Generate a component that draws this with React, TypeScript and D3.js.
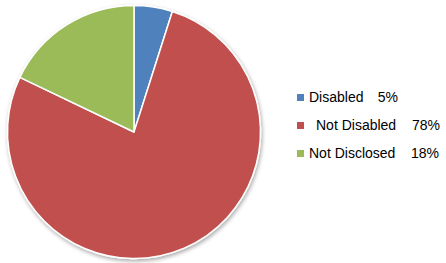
import React, { useEffect, useRef } from 'react';
import * as d3 from 'd3';

const categories = ['Disabled', 'Not Disabled', 'Not Disclosed'];
const shares = [4.9, 77.2, 17.9];
const shareLabels = ['5%', '78%', '18%'];
const colors = ['#4F81BD', '#C0504D', '#9BBB59'];

const App: React.FC = () => {
    const chartRef = useRef<SVGSVGElement | null>(null);

    useEffect(() => {
        if (!chartRef.current) return;

        const width = 446;
        const height = 263;
        const radius = 126.5;
        const cx = 134;
        const cy = 132;

        d3.select(chartRef.current).selectAll('*').remove();

        const svg = d3.select(chartRef.current)
            .attr('width', width)
            .attr('height', height)
            .style('display', 'block');

        // soft drop shadow under the pie
        const defs = svg.append('defs');
        const filter = defs.append('filter')
            .attr('id', 'pieShadow')
            .attr('x', '-10%').attr('y', '-10%')
            .attr('width', '120%').attr('height', '120%');
        filter.append('feGaussianBlur').attr('in', 'SourceAlpha').attr('stdDeviation', 2);
        filter.append('feOffset').attr('dx', 1).attr('dy', 2).attr('result', 'off');
        filter.append('feComponentTransfer').append('feFuncA').attr('type', 'linear').attr('slope', 0.35);
        const merge = filter.append('feMerge');
        merge.append('feMergeNode');
        merge.append('feMergeNode').attr('in', 'SourceGraphic');

        const g = svg.append('g')
            .attr('transform', `translate(${cx}, ${cy})`)
            .attr('filter', 'url(#pieShadow)');

        const color = d3.scaleOrdinal<string>()
            .domain(categories)
            .range(colors);

        const pie = d3.pie<number>()
            .value(d => d)
            .sort(null);

        const arc = d3.arc<d3.PieArcDatum<number>>()
            .innerRadius(0)
            .outerRadius(radius);

        g.selectAll('path')
            .data(pie(shares))
            .enter()
            .append('path')
            .attr('d', arc)
            .attr('fill', (d, i) => color(categories[i]))
            .attr('stroke', '#fff')
            .attr('stroke-width', 1.5)
            .attr('stroke-linejoin', 'round');

        // legend
        const legend = svg.append('g')
            .attr('transform', 'translate(297, 97.5)');

        const nameX = [12, 19, 12];
        const pctX = [101, 143, 142];

        categories.forEach((label, i) => {
            const row = legend.append('g')
                .attr('transform', `translate(0, ${i * 28})`);

            row.append('rect')
                .attr('x', 0)
                .attr('y', -3.5)
                .attr('width', 7)
                .attr('height', 7)
                .attr('fill', color(label));

            row.append('text')
                .attr('x', nameX[i])
                .attr('y', 0)
                .attr('dy', '0.35em')
                .text(label)
                .style('font-family', '"Liberation Sans", Arial, sans-serif')
                .style('font-size', '14px')
                .style('fill', '#000');

            row.append('text')
                .attr('x', pctX[i])
                .attr('y', 0)
                .attr('dy', '0.35em')
                .attr('text-anchor', 'end')
                .text(shareLabels[i])
                .style('font-family', '"Liberation Sans", Arial, sans-serif')
                .style('font-size', '14px')
                .style('fill', '#000');
        });
    }, []);

    return (
        <div style={{ position: 'absolute', left: 0, top: 0 }}>
            <svg ref={chartRef} />
        </div>
    );
};

export default App;
